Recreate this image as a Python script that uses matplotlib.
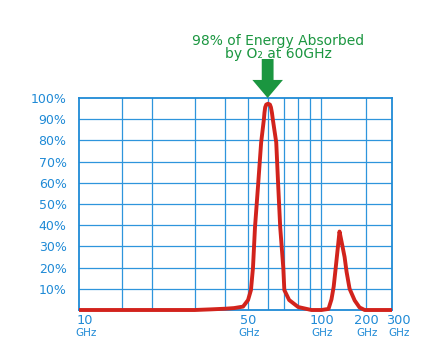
import numpy as np
import matplotlib
matplotlib.use("Agg")
import matplotlib.pyplot as plt

# ---- data ----
freq_ghz = [10, 20, 30, 35, 40, 43.6, 47.5, 49.8, 51.2, 52.2, 53.2, 54.8, 56.4, 57.9, 58.2,
            58.6, 59.2, 60.2, 61.3, 61.9, 62.5, 63.0, 65.1, 66.3, 67.6, 69.6, 70.3, 73.6,
            80.2, 90.9,
            100, 111.6, 116.9, 121, 124.5, 128, 132.5, 137, 143.4, 147.9, 155, 167.8, 181,
            196, 300]
absorption_pct = [0, 0, 0, 0.3, 0.6, 0.9, 1.6, 4.7, 9.4, 20, 39, 59, 79, 90, 93,
                  95.6, 96.9, 97.3, 96.9, 95.6, 93, 90, 79, 59, 39, 20, 9.4, 4.7,
                  1.4, 0,
                  0, 0.5, 5, 11, 19, 27, 37, 32, 25, 18, 10, 4.5, 1.2,
                  0, 0]

ytick_vals = [10, 20, 30, 40, 50, 60, 70, 80, 90, 100]
ytick_labels = ["10%", "20%", "30%", "40%", "50%", "60%", "70%", "80%", "90%", "100%"]
xgrid_vals = [15, 20, 30, 40, 50, 60, 70, 80, 90, 100, 200]
xlabel_vals = [10, 50, 100, 200, 300]
xlabel_nums = ["10", "50", "100", "200", "300"]
title_lines = ["98% of Energy Absorbed", "by O\u2082 at 60GHz"]

BLUE = "#1f8ad6"
GRID = "#2e95dc"
RED = "#d2231c"
GREEN = "#1b9640"

K = 0.61  # compression above 100 GHz

def fwd(x):
    x = np.asarray(x, dtype=float)
    lx = np.log10(np.clip(x, 1e-9, None))
    return np.where(lx <= 2, lx, 2 + (lx - 2) * K)

def inv(t):
    t = np.asarray(t, dtype=float)
    return np.where(t <= 2, 10 ** t, 10 ** (2 + (t - 2) / K))

fig = plt.figure(figsize=(4.28, 3.59), dpi=100)
ax = fig.add_axes([79 / 428, 1 - 310 / 359, (392 - 79) / 428, (310 - 98) / 359])
ax.set_xscale("function", functions=(fwd, inv))
ax.set_xlim(10, 300)
ax.set_ylim(0, 100)

for v in ytick_vals[:-1]:
    ax.axhline(v, color=GRID, lw=0.9, zorder=1)
for v in xgrid_vals:
    ax.axvline(v, color=GRID, lw=0.9, zorder=1)

for s in ax.spines.values():
    s.set_color(BLUE)
    s.set_linewidth(1.3)

ax.plot(freq_ghz, absorption_pct, color=RED, lw=2.8, solid_capstyle="butt",
        solid_joinstyle="round", zorder=3, clip_on=False)

ax.set_xticks([])
ax.set_yticks(ytick_vals)
ax.set_yticklabels(ytick_labels, color=BLUE, fontsize=9, family="DejaVu Sans")
ax.tick_params(axis="y", length=0, pad=9)

offsets = {10: 6, 300: 6}
for v, lab in zip(xlabel_vals, xlabel_nums):
    dx = offsets.get(v, 0)
    ax.annotate(lab, xy=(v, 0), xycoords=("data", "axes fraction"),
                xytext=(dx, -4), textcoords="offset pixels",
                ha="center", va="top", color=BLUE, fontsize=9.3)
    ax.annotate("GHz", xy=(v, 0), xycoords=("data", "axes fraction"),
                xytext=(dx + 1, -18), textcoords="offset pixels",
                ha="center", va="top", color=BLUE, fontsize=7.5)

fig.text(278 / 428, 1 - 41 / 359, title_lines[0], ha="center", va="center",
         color=GREEN, fontsize=10)
fig.text(278 / 428, 1 - 54 / 359, title_lines[1], ha="center", va="center",
         color=GREEN, fontsize=10)

ms = 10
ax.annotate("", xy=(60, 100), xycoords="data", xytext=(0, 39),
            textcoords="offset pixels", annotation_clip=False,
            arrowprops=dict(arrowstyle="simple,head_length=1.3,head_width=2.2,tail_width=0.85",
                            mutation_scale=ms, color=GREEN, shrinkA=0, shrinkB=0, lw=0))

fig.savefig("out.png", dpi=100)
